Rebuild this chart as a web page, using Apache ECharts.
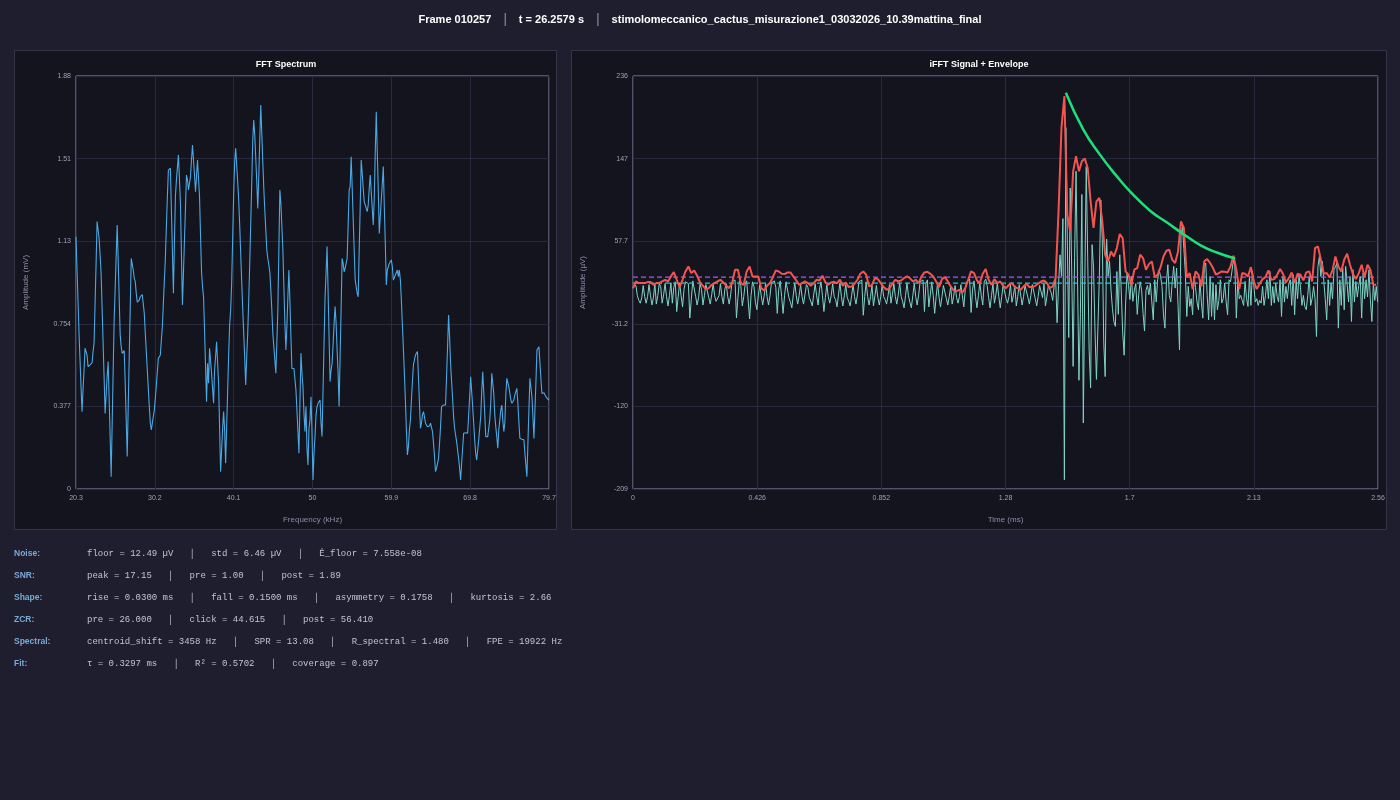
<!DOCTYPE html>
<html><head><meta charset="utf-8">
<script src="https://cdn.jsdelivr.net/npm/echarts@6/dist/echarts.min.js"></script>
<style>html,body{margin:0;padding:0;background:#1e1e2e;}#c{width:1400px;height:800px;}</style>
</head><body><div id="c"></div>
<script>
// ---------- header / titles ----------
const headerParts = ["Frame 010257", "t = 26.2579 s", "stimolomeccanico_cactus_misurazione1_03032026_10.39mattina_final"];
const fftTitle = "FFT Spectrum";
const sigTitle = "iFFT Signal + Envelope";

// ---------- FFT spectrum (mV), evenly spaced bins from 20.3 to 79.7 kHz ----------
const FREQ_MIN = 20.3, FREQ_MAX = 79.7;
const fftAmp = [
1.151,0.999,0.862,0.710,0.589,0.467,0.353,0.452,0.543,0.642,0.649,0.611,0.558,0.562,0.566,0.571,0.576,0.627,0.665,0.847,
1.029,1.220,1.227,1.144,1.068,0.984,0.824,0.665,0.505,0.345,0.429,0.512,0.581,0.414,0.239,0.056,0.292,0.535,0.771,0.915,
1.060,1.204,1.045,0.870,0.703,0.649,0.619,0.622,0.631,0.482,0.315,0.148,0.376,0.604,0.824,1.052,1.045,0.999,0.961,0.946,
0.893,0.852,0.857,0.862,0.877,0.882,0.887,0.890,0.801,0.710,0.627,0.543,0.459,0.376,0.300,0.269,0.300,0.330,0.360,0.414,
0.474,0.535,0.596,0.604,0.611,0.680,0.741,0.847,0.953,1.052,1.197,1.334,1.455,1.463,1.463,1.273,1.083,0.893,1.121,1.334,
1.410,1.410,1.524,1.531,1.303,1.068,0.839,0.984,1.136,1.280,1.432,1.410,1.364,1.356,1.425,1.501,1.569,1.501,1.432,1.356,
1.425,1.501,1.493,1.334,1.159,0.991,0.923,0.877,0.725,0.558,0.398,0.573,0.482,0.642,0.649,0.528,0.459,0.391,0.543,0.604,
0.672,0.680,0.482,0.277,0.079,0.178,0.277,0.353,0.269,0.117,0.284,0.444,0.611,0.748,0.817,0.938,1.144,1.341,1.493,1.554,
1.478,1.402,1.318,1.204,1.075,0.946,0.824,0.710,0.596,0.474,0.604,0.710,0.862,1.029,1.212,1.394,1.592,1.683,1.615,1.509,
1.402,1.280,1.425,1.592,1.752,1.623,1.493,1.372,1.273,1.182,1.090,1.052,1.022,0.991,0.908,0.817,0.710,0.649,0.589,0.528,
0.665,0.817,1.090,1.364,1.303,1.197,1.090,0.923,0.756,0.634,0.741,0.877,0.999,0.862,0.695,0.550,0.550,0.550,0.550,0.452,
0.360,0.262,0.163,0.391,0.619,0.528,0.467,0.345,0.262,0.376,0.186,0.109,0.277,0.315,0.421,0.254,0.041,0.163,
0.239,0.338,0.376,0.391,0.398,0.406,0.300,0.239,0.452,0.665,0.877,0.984,1.106,0.908,0.695,0.490,0.543,0.573,0.657,0.756,
0.832,0.756,0.634,0.528,0.376,0.604,0.824,1.052,1.029,0.991,1.007,1.029,1.052,1.204,1.364,1.379,1.516,1.379,1.235,1.090,
0.953,0.923,0.893,0.877,1.090,1.288,1.501,1.440,1.372,1.311,1.296,1.280,1.265,1.296,1.372,1.432,1.356,1.280,1.204,1.326,
1.539,1.721,1.539,1.364,1.166,1.242,1.318,1.394,1.471,1.288,1.121,0.931,0.999,1.014,1.029,1.037,1.045,1.014,0.953,0.961,
0.976,0.984,0.999,0.969,0.999,0.953,0.862,0.748,0.642,0.528,0.406,0.269,0.155,0.193,0.269,0.315,0.406,0.490,0.566,0.589,
0.611,0.619,0.627,0.512,0.391,0.277,0.300,0.338,0.353,0.330,0.300,0.292,0.284,0.277,0.287,0.300,0.292,0.262,0.208,0.148,
0.079,0.094,0.117,0.140,0.208,0.284,0.376,0.383,0.383,0.383,0.383,0.512,0.649,0.794,0.695,0.573,0.490,0.414,0.330,0.277,
0.246,0.216,0.178,0.140,0.094,0.041,0.117,0.186,0.254,0.257,0.257,0.257,0.254,0.338,0.421,0.512,0.444,0.376,0.300,0.224,
0.163,0.132,0.178,0.224,0.277,0.330,0.444,0.535,0.444,0.345,0.239,0.231,0.239,0.231,0.315,0.391,0.528,0.482,0.436,0.338,
0.284,0.239,0.186,0.269,0.315,0.360,0.383,0.315,0.262,0.300,0.429,0.505,0.512,0.467,0.436,0.406,0.391,0.383,0.406,0.429,
0.444,0.459,0.391,0.307,0.231,0.227,0.227,0.227,0.224,0.163,0.109,0.056,0.208,0.360,0.505,0.512,0.421,0.330,0.231,0.360,
0.490,0.634,0.642,0.649,0.573,0.497,0.436,0.433,0.439,0.429,0.421,0.414,0.406,0.406
];
const fftXTicks = ["20.3","30.2","40.1","50","59.9","69.8","79.7"];
const fftYTicks = ["0","0.377","0.754","1.13","1.51","1.88"];
const FFT_X_STEP = 9.9, FFT_Y_STEP = 0.3768;

// ---------- iFFT signal (µV), one sample every 0.005 ms ----------
const SIG_DT = 0.005;
const signal = [
9,11,10,-1,-6,-9,-3,10,-2,-9, -2,11,-1,-11,-3,12,-10,-1,12,9, -9,0,12,-2,-12,-1,13,-9,8,14,
-18,-2,13,-1,-13,6,14,16,12,-25, -5,15,14,-2,-11,-3,12,6,-11,-1, 11,10,-3,-10,0,12,-1,-7,-9,-1,
12,-2,-10,6,12,-2,-10,0,14,15, 16,-25,-3,15,10,-12,-2,12,15,16, -26,-1,14,9,-8,-16,-1,11,-1,-11,
-1,12,-2,-11,-1,13,14,15,8,-20, 6,15,-2,-20,-1,14,12,-3,-8,-14, 0,13,-1,-10,-1,11,-2,-10,0,11,
8,-3,-7,-12,0,12,-1,-11,6,14, -1,-18,-3,11,-2,-9,-1,12,-2,-5, -13,0,13,-2,-12,-1,11,-3,-7,-12,
-1,11,-2,-10,0,14,15,16,-22,-2, 14,-2,-11,-2,10,-12,-1,10,-3,-11, -2,11,-2,-5,-10,-1,11,-9,0,12,
-2,-10,0,13,-2,-7,-14,-1,13,-1, -8,-14,-1,12,-2,-11,0,14,15,16, -18,12,16,-13,0,14,-1,-20,-2,13,
-3,-13,-2,10,8,-4,-11,-2,9,-10, -2,10,-3,-9,-2,11,-1,-13,6,14, 16,17,-19,6,15,-2,-14,-1,13,-1,
-11,14,17,10,-3,-14,-1,12,-9,0, 12,-2,-14,-2,11,9,-4,-9,-2,11, -8,-1,10,-12,-2,11,9,-11,-2,10,
9,-3,-10,-1,11,9,-4,-12,-2,10, 9,-3,12,-12,-2,10,
8,2,-6,10,18,-30,10,43,20,82, -199,180,60,-46,115,30,-77,40,133,20, -92,-20,108,-138,10,138,40,-60,-100,54,
30,-38,-91,-93,20,102,60,-50,-88,60, 20,36,5,-15,-29,-34,25,-21,43,5, -40,-65,-10,23,10,-5,20,-7,5,12,
-21,0,14,5,-20,-39,5,10,0,
12.6,-7.8,-26.9,16.2,-7.8,16.2,27,20, 9,-21.5,-35.9,12.6,32.4,-0.6,-7.8,14, 30.6,7.2,28.8,-11.4,-59.2,62.9,73.7,50,
23.4,-23.3,9,-12.5,-4.2,-21.5,19.8,8, -7.8,-16.1,16.2,-7.8,-25.1,30.6,34.2,-1, -26.9,19.8,-23.3,12.6,-26.9,10.8,-16.1,-6,
16.2,-8.9,-4.2,12.6,-7.8,-21.5,16.2,14, 12.6,37.8,30.6,-25.1,16.2,-4.2,-0.6,-6, -11.4,14.4,-4.2,-12.5,19.8,-11.4,25.2,10,
-7.8,-4.2,-11.4,-6,-8.9,9,-11.4,-1, 16.2,-4.2,25.2,-11.4,9,-8.9,12.6,-2, -7.8,16.2,-23.3,19.8,-7.8,9,-4,12,
16.2,-11.4,21.6,-21.5,16.2,-4.2,21.6,8, -11.4,-0.6,-12.5,-16.1,-0.6,19.8,-11.4,-4, 9,-4.2,-44.9,30.6,41.3,19.8,36,15,
-4.2,-26.9,16.2,-11.4,12.6,-4.2,27,30, 34.2,-35.9,16.2,-11.4,28.8,-16.1,30.6,12, -7.8,19.8,-28.7,27,-7.8,14.4,-2.4,10,
19.8,-25.1,23.4,-4.2,16.2,-2.4,27,-6, -28.7,12.6,-6,9,-7.8
];

// ---------- envelope (µV), one value every 0.01 ms ----------
const ENV_DT = 0.01;
const envelope = [
7,14.4,12.6,12.6,12.6,13.7,13.7,10.8,12.6,12.6, 14.4,16.2,14.4,19.8,24.4,16.2,8.3,16.2,25.2,30.5,
23.4,26.2,20.5,13.3,9.7,6.1,7.2,10.8,12.6,14.4, 16.2,13.3,9.7,7.2,12.6,27,27,12.6,10.8,25.2,
30.5,19.8,19.8,19.8,7.2,4.7,9.7,12.6,19,26.2, 25.2,22.6,22.3,24.1,24.1,19.8,15.5,10.8,12.6,14.4,
12.6,9.7,12.6,16.2,15.5,20.5,13.3,10.8,13.3,14, 12.6,16.2,9.7,13.3,8.3,9,11.9,16.2,22.6,25.2,
21.6,9,10.8,18,16.9,12.6,8.3,5.4,7.2,11.9, 16.2,14.4,15.5,18,19.8,18,14.4,16.2,12.6,19.8,
24.1,24.8,22.6,19.8,14.4,8.3,16.9,19,14.4,9, 4.7,4,5.4,2.5,7.2,16.2,25.2,23.4,15.5,12.6,
22.6,27.7,16.2,10.8,16.9,12.6,14.4,9.7,7.2,10.8, 12.6,8.3,7.2,5.4,9,11.9,8.3,8.3,9.7,11.9,
14.4,15.5,12.6,
7.2,9,18,89.8,179.6,214,86.2,68.3,132.9,149.1,132.9,143.7,146.6,136.5,100.6,71.9,100.6,104.2,79,43.1,
35.9,46.7,41.3,50.3,65.4,61.1,25.2,21.6,10.8,27,28.8,43.1,39.5,27,
33,
36,19.1,21.6,29.8,41.3,47.4,48.5,37.8,34.2,46.7,79.1,71.9,19.1,23.4,6.1,25.2,21.6,9,36,38.5,
34.2,28.8,21.6,23.4,25.2,24.8,24.1,30.6,42.1,27,6.1,23.4,22.7,19.8,29.8,14.4,6.1,11.9,16.9,19.1,
26.3,16.2,16.9,21.6,27.7,22.7,13.3,18,24.1,12.6,22.7,21.6,15.5,24.1,25.2,14.4,50.3,52.1,37.8,22.7,
23.4,18.7,26.3,41.3,30.6,25.2,37.8,44.2,32.4,22.3,16.9,23.4,32.4,19.1,32.4,27,10.8,10.8
];

// ---------- exponential fit ----------
const fitT = [1.485,1.545,1.602,1.660,1.705,1.774,1.831,1.888,1.946,2.003,2.066];
const fitV = [217.4,177.8,150.9,127.5,111.3,90.5,78.0,65.5,53.5,45.5,39.0];

// ---------- reference levels (µV) ----------
const noiseFloor = 12.49;
const noiseThreshold = 18.95;

const sigXTicks = ["0","0.426","0.852","1.28","1.7","2.13","2.56"];
const sigYTicks = ["-209","-120","-31.2","57.7","147","236"];
const SIG_X_STEP = 0.426, SIG_Y_STEP = 88.9, SIG_Y_BASE = -209;

// ---------- stats ----------
const statLabels = ["Noise:","SNR:","Shape:","ZCR:","Spectral:","Fit:"];
const statValues = [
  ["floor = 12.49 µV","std = 6.46 µV","Ê_floor = 7.558e-08"],
  ["peak = 17.15","pre = 1.00","post = 1.89"],
  ["rise = 0.0300 ms","fall = 0.1500 ms","asymmetry = 0.1758","kurtosis = 2.66"],
  ["pre = 26.000","click = 44.615","post = 56.410"],
  ["centroid_shift = 3458 Hz","SPR = 13.08","R_spectral = 1.480","FPE = 19922 Hz"],
  ["τ = 0.3297 ms","R² = 0.5702","coverage = 0.897"]
];

// ================= build =================
const SANS = "'Liberation Sans', Arial, sans-serif";
const MONO = "'Liberation Mono', 'Courier New', monospace";
const fftN = fftAmp.length;
const fftData = fftAmp.map((a, k) => [k * (FREQ_MAX - FREQ_MIN) / (fftN - 1), a]);
const sigData = signal.map((v, i) => [i * SIG_DT, v - SIG_Y_BASE]);
const envData = envelope.map((v, j) => [j * ENV_DT, v - SIG_Y_BASE]);
const fitData = fitT.map((t, k) => [t, fitV[k] - SIG_Y_BASE]);
const SIG_T_MAX = SIG_X_STEP * 6;
const floorData = [[0, noiseFloor - SIG_Y_BASE], [SIG_T_MAX, noiseFloor - SIG_Y_BASE]];
const thrData = [[0, noiseThreshold - SIG_Y_BASE], [SIG_T_MAX, noiseThreshold - SIG_Y_BASE]];

const axisLabelColor = '#a0a0b8';
const axisNameColor = '#8c8ca6';
const splitColor = '#2a2a3e';

function xAxisCfg(gi, max, step, ticks, name) {
  return {
    type: 'value', gridIndex: gi, min: 0, max: max, interval: step,
    axisLine: {show: false}, axisTick: {show: false},
    splitLine: {show: true, lineStyle: {color: splitColor, width: 1}},
    axisLabel: {color: axisLabelColor, fontSize: 7, fontFamily: SANS, margin: 6, showMinLabel: true, showMaxLabel: true,
      formatter: v => ticks[Math.round(v / step)]},
    name: name, nameLocation: 'middle', nameGap: 27,
    nameTextStyle: {color: axisNameColor, fontSize: 8, fontFamily: SANS}
  };
}
function yAxisCfg(gi, max, step, ticks, name) {
  return {
    type: 'value', gridIndex: gi, min: 0, max: max, interval: step,
    axisLine: {show: false}, axisTick: {show: false},
    splitLine: {show: true, lineStyle: {color: splitColor, width: 1}},
    axisLabel: {color: axisLabelColor, fontSize: 7, fontFamily: SANS, margin: 5, showMinLabel: true, showMaxLabel: true,
      formatter: v => ticks[Math.round(v / step)]},
    name: name, nameLocation: 'middle', nameGap: 46, nameRotate: 90,
    nameTextStyle: {color: axisNameColor, fontSize: 8, fontFamily: SANS}
  };
}

const sepRich = {b: {fontSize: 11, fontWeight: 'bold', fontFamily: SANS, fill: '#ffffff', color: '#ffffff'},
                 s: {fontSize: 11, fontFamily: 'DejaVu Sans', fill: '#a8a8bc', color: '#a8a8bc'}};
const headerText = headerParts.map(p => '{b|' + p + '}').join('{s|   │   }');

const graphics = [
  {type: 'rect', z: -10, shape: {x: 14.5, y: 50.5, width: 542, height: 479}, style: {fill: '#14141f', stroke: '#35354a', lineWidth: 1}},
  {type: 'rect', z: -10, shape: {x: 571.5, y: 50.5, width: 815, height: 479}, style: {fill: '#14141f', stroke: '#35354a', lineWidth: 1}},
  {type: 'text', style: {text: headerText, x: 700, y: 20, align: 'center', verticalAlign: 'middle', rich: sepRich}},
  {type: 'text', style: {text: fftTitle, x: 286, y: 65, align: 'center', verticalAlign: 'middle', fill: '#ffffff', fontSize: 9, fontWeight: 'bold', fontFamily: SANS}},
  {type: 'text', style: {text: sigTitle, x: 979, y: 65, align: 'center', verticalAlign: 'middle', fill: '#ffffff', fontSize: 9, fontWeight: 'bold', fontFamily: SANS}}
];
statLabels.forEach((lab, r) => {
  const y = 554 + r * 22;
  graphics.push({type: 'text', style: {text: lab, x: 14, y: y, align: 'left', verticalAlign: 'middle', fill: '#7aaad6', fontSize: 8.5, fontWeight: 'bold', fontFamily: SANS}});
  graphics.push({type: 'text', style: {text: statValues[r].join('   │   '), x: 87, y: y, align: 'left', verticalAlign: 'middle', fill: '#c4c4d0', fontSize: 9, fontFamily: MONO}});
});

const chart = echarts.init(document.getElementById('c'), null, {renderer: 'canvas', width: 1400, height: 800});
chart.setOption({
  backgroundColor: '#1e1e2e',
  animation: false,
  graphic: graphics,
  grid: [
    {left: 76, top: 76, width: 473, height: 413, show: true, borderColor: '#8e8eb2', borderWidth: 1, backgroundColor: 'transparent'},
    {left: 633, top: 76, width: 745, height: 413, show: true, borderColor: '#8e8eb2', borderWidth: 1, backgroundColor: 'transparent'}
  ],
  xAxis: [
    xAxisCfg(0, FFT_X_STEP * 6, FFT_X_STEP, fftXTicks, 'Frequency (kHz)'),
    xAxisCfg(1, SIG_T_MAX, SIG_X_STEP, sigXTicks, 'Time (ms)')
  ],
  yAxis: [
    yAxisCfg(0, FFT_Y_STEP * 5, FFT_Y_STEP, fftYTicks, 'Amplitude (mV)'),
    yAxisCfg(1, SIG_Y_STEP * 5, SIG_Y_STEP, sigYTicks, 'Amplitude (µV)')
  ],
  series: [
    {type: 'line', xAxisIndex: 0, yAxisIndex: 0, data: fftData, showSymbol: false, silent: true,
      lineStyle: {color: '#4aa8e2', width: 1.1}},
    {type: 'line', xAxisIndex: 1, yAxisIndex: 1, data: sigData, showSymbol: false, silent: true,
      lineStyle: {color: '#7fd4c6', width: 1}},
    {type: 'line', xAxisIndex: 1, yAxisIndex: 1, data: floorData, showSymbol: false, silent: true,
      lineStyle: {color: '#22c8cc', width: 1.2, type: [5, 3]}},
    {type: 'line', xAxisIndex: 1, yAxisIndex: 1, data: thrData, showSymbol: false, silent: true,
      lineStyle: {color: '#9b5cf6', width: 1.2, type: [5, 3]}},
    {type: 'line', xAxisIndex: 1, yAxisIndex: 1, data: envData, showSymbol: false, silent: true,
      lineStyle: {color: '#f2544f', width: 2}},
    {type: 'line', xAxisIndex: 1, yAxisIndex: 1, data: fitData, showSymbol: false, silent: true, smooth: true,
      lineStyle: {color: '#1ee07a', width: 2.5}}
  ]
});
</script>
</body></html>
